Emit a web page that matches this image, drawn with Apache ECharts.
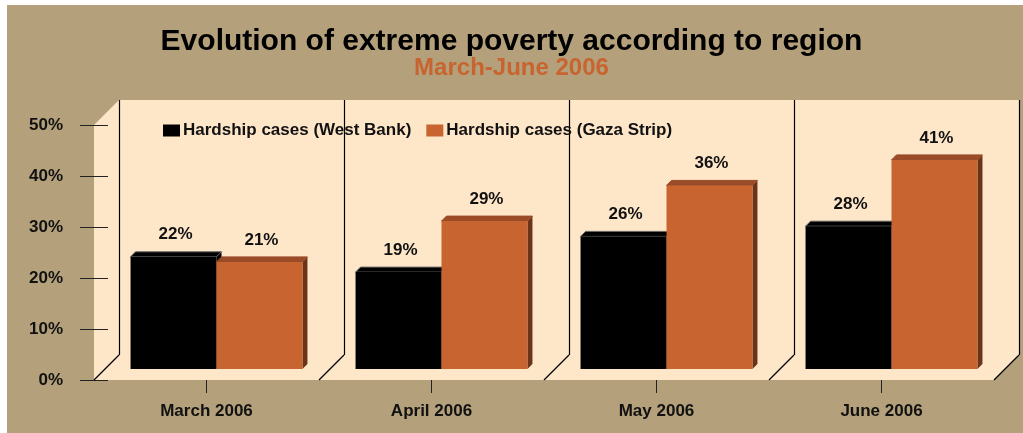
<!DOCTYPE html>
<html>
<head>
<meta charset="utf-8">
<script src="https://cdn.jsdelivr.net/npm/echarts@6/dist/echarts.min.js"></script>
<style>
  html, body { margin: 0; padding: 0; background: #fff; }
  #chart { width: 1023px; height: 433px; }
</style>
</head>
<body>
<div id="chart"></div>
<script>
// data
const months = ["March 2006", "April 2006", "May 2006", "June 2006"];
const westBank = [22, 19, 26, 28];
const gaza = [21, 29, 36, 41];
const yTicks = [0, 10, 20, 30, 40, 50];

// layout of the "3D" box (front plane = grid)
const GL = 94, GT = 125, GW = 900, GH = 255;
const DEPTH = 25;          // back wall offset
const BAR_DX = 10, BAR_DY = -11; // bars sit half way back
const BAR_D = 5;           // depth of each bar
const BAR_RATIO = 0.382;

const TAN = "#b4a07a", PEACH = "#fee6c9";
const FONT = "Liberation Sans, Arial, sans-serif";

function barRenderer(side, front, topC, sideC, topStroke) {
  return function (params, api) {
    const cat = api.value(0), v = api.value(1);
    const base = api.coord([cat, 0]);
    const top = api.coord([cat, v]);
    const w = api.size([1, 0])[0] * BAR_RATIO;
    const cx = base[0] + BAR_DX;
    const x0 = side < 0 ? cx - w : cx;
    const x1 = x0 + w;
    const yb = base[1] + BAR_DY, yt = top[1] + BAR_DY;
    return {
      type: "group",
      children: [
        { type: "polygon", shape: { points: [[x1, yt], [x1 + BAR_D, yt - BAR_D], [x1 + BAR_D, yb - BAR_D], [x1, yb]] },
          style: { fill: sideC } },
        { type: "polygon", shape: { points: [[x0, yt], [x1, yt], [x1 + BAR_D, yt - BAR_D], [x0 + BAR_D, yt - BAR_D]] },
          style: { fill: topC, stroke: topStroke, lineWidth: 1 } },
        { type: "rect", shape: { x: x0, y: yt, width: w, height: yb - yt },
          style: { fill: front } },
        { type: "text", x: (x0 + x1) / 2 + 2, y: yt - 22,
          style: { text: v + "%", fill: "#111", font: "bold 17px " + FONT, align: "center", verticalAlign: "middle" } }
      ]
    };
  };
}

// walls and floor
const walls = [];
walls.push({ type: "rect", z: -20, shape: { x: 7, y: 5, width: 1016, height: 428 }, style: { fill: TAN } });
walls.push({ type: "polygon", z: -15, shape: { points: [
  [GL, GT], [GL + DEPTH, GT - DEPTH], [GL + GW + DEPTH, GT - DEPTH],
  [GL + GW + DEPTH, GT + GH - DEPTH], [GL + GW, GT + GH], [GL, GT + GH]] },
  style: { fill: PEACH } });
for (let k = 0; k <= months.length; k++) {
  const xf = GL + k * GW / months.length;
  const xb = Math.round(xf + DEPTH) + 0.5;
  walls.push({ type: "line", z: -10, shape: { x1: xb, y1: GT - DEPTH, x2: xb, y2: GT + GH - DEPTH },
    style: { stroke: "#000", lineWidth: 1.2 } });
  walls.push({ type: "line", z: -10, shape: { x1: xf, y1: GT + GH, x2: xf + DEPTH, y2: GT + GH - DEPTH },
    style: { stroke: "#000", lineWidth: 1.2 } });
}

const chart = echarts.init(document.getElementById("chart"));
chart.setOption({
  backgroundColor: "#fff",
  animation: false,
  title: {
    text: "Evolution of extreme poverty according to region",
    subtext: "March-June 2006",
    left: "center",
    top: 21,
    itemGap: 0,
    textStyle: { fontFamily: FONT, fontSize: 30, fontWeight: "bold", color: "#000", lineHeight: 31 },
    subtextStyle: { fontFamily: FONT, fontSize: 24, fontWeight: "bold", color: "#c8642f", lineHeight: 22 }
  },
  legend: {
    left: 163,
    top: 122,
    padding: 0,
    icon: "rect",
    itemWidth: 17,
    itemHeight: 12,
    itemGap: 15,
    textStyle: { fontFamily: FONT, fontSize: 17, fontWeight: "bold", color: "#111", padding: [0, 0, 0, -2] },
    data: ["Hardship cases (West Bank)", "Hardship cases (Gaza Strip)"]
  },
  graphic: walls,
  grid: { left: GL, top: GT, width: GW, height: GH },
  xAxis: {
    type: "category",
    data: months,
    axisLine: { show: false },
    axisTick: { show: true, alignWithLabel: true, length: 13, lineStyle: { color: "#222" } },
    axisLabel: { margin: 23, fontFamily: FONT, fontSize: 17, fontWeight: "bold", color: "#111" }
  },
  yAxis: {
    type: "value",
    min: yTicks[0],
    max: yTicks[yTicks.length - 1],
    interval: 10,
    offset: -14,
    axisLine: { show: false },
    axisTick: { show: true, inside: false, length: 28, lineStyle: { color: "#222" } },
    splitLine: { show: false },
    axisLabel: { margin: 45, formatter: "{value}%", fontFamily: FONT, fontSize: 17, fontWeight: "bold", color: "#111" }
  },
  series: [
    {
      name: "Hardship cases (West Bank)",
      type: "custom",
      itemStyle: { color: "#000" },
      renderItem: barRenderer(-1, "#000", "#000", "#000", "#666"),
      encode: { x: 0, y: 1 },
      data: westBank.map((v, i) => [i, v])
    },
    {
      name: "Hardship cases (Gaza Strip)",
      type: "custom",
      itemStyle: { color: "#c8642f" },
      renderItem: barRenderer(1, "#c8642f", "#9a4c28", "#6b3419", "#9a4c28"),
      encode: { x: 0, y: 1 },
      data: gaza.map((v, i) => [i, v])
    }
  ]
});
</script>
</body>
</html>
